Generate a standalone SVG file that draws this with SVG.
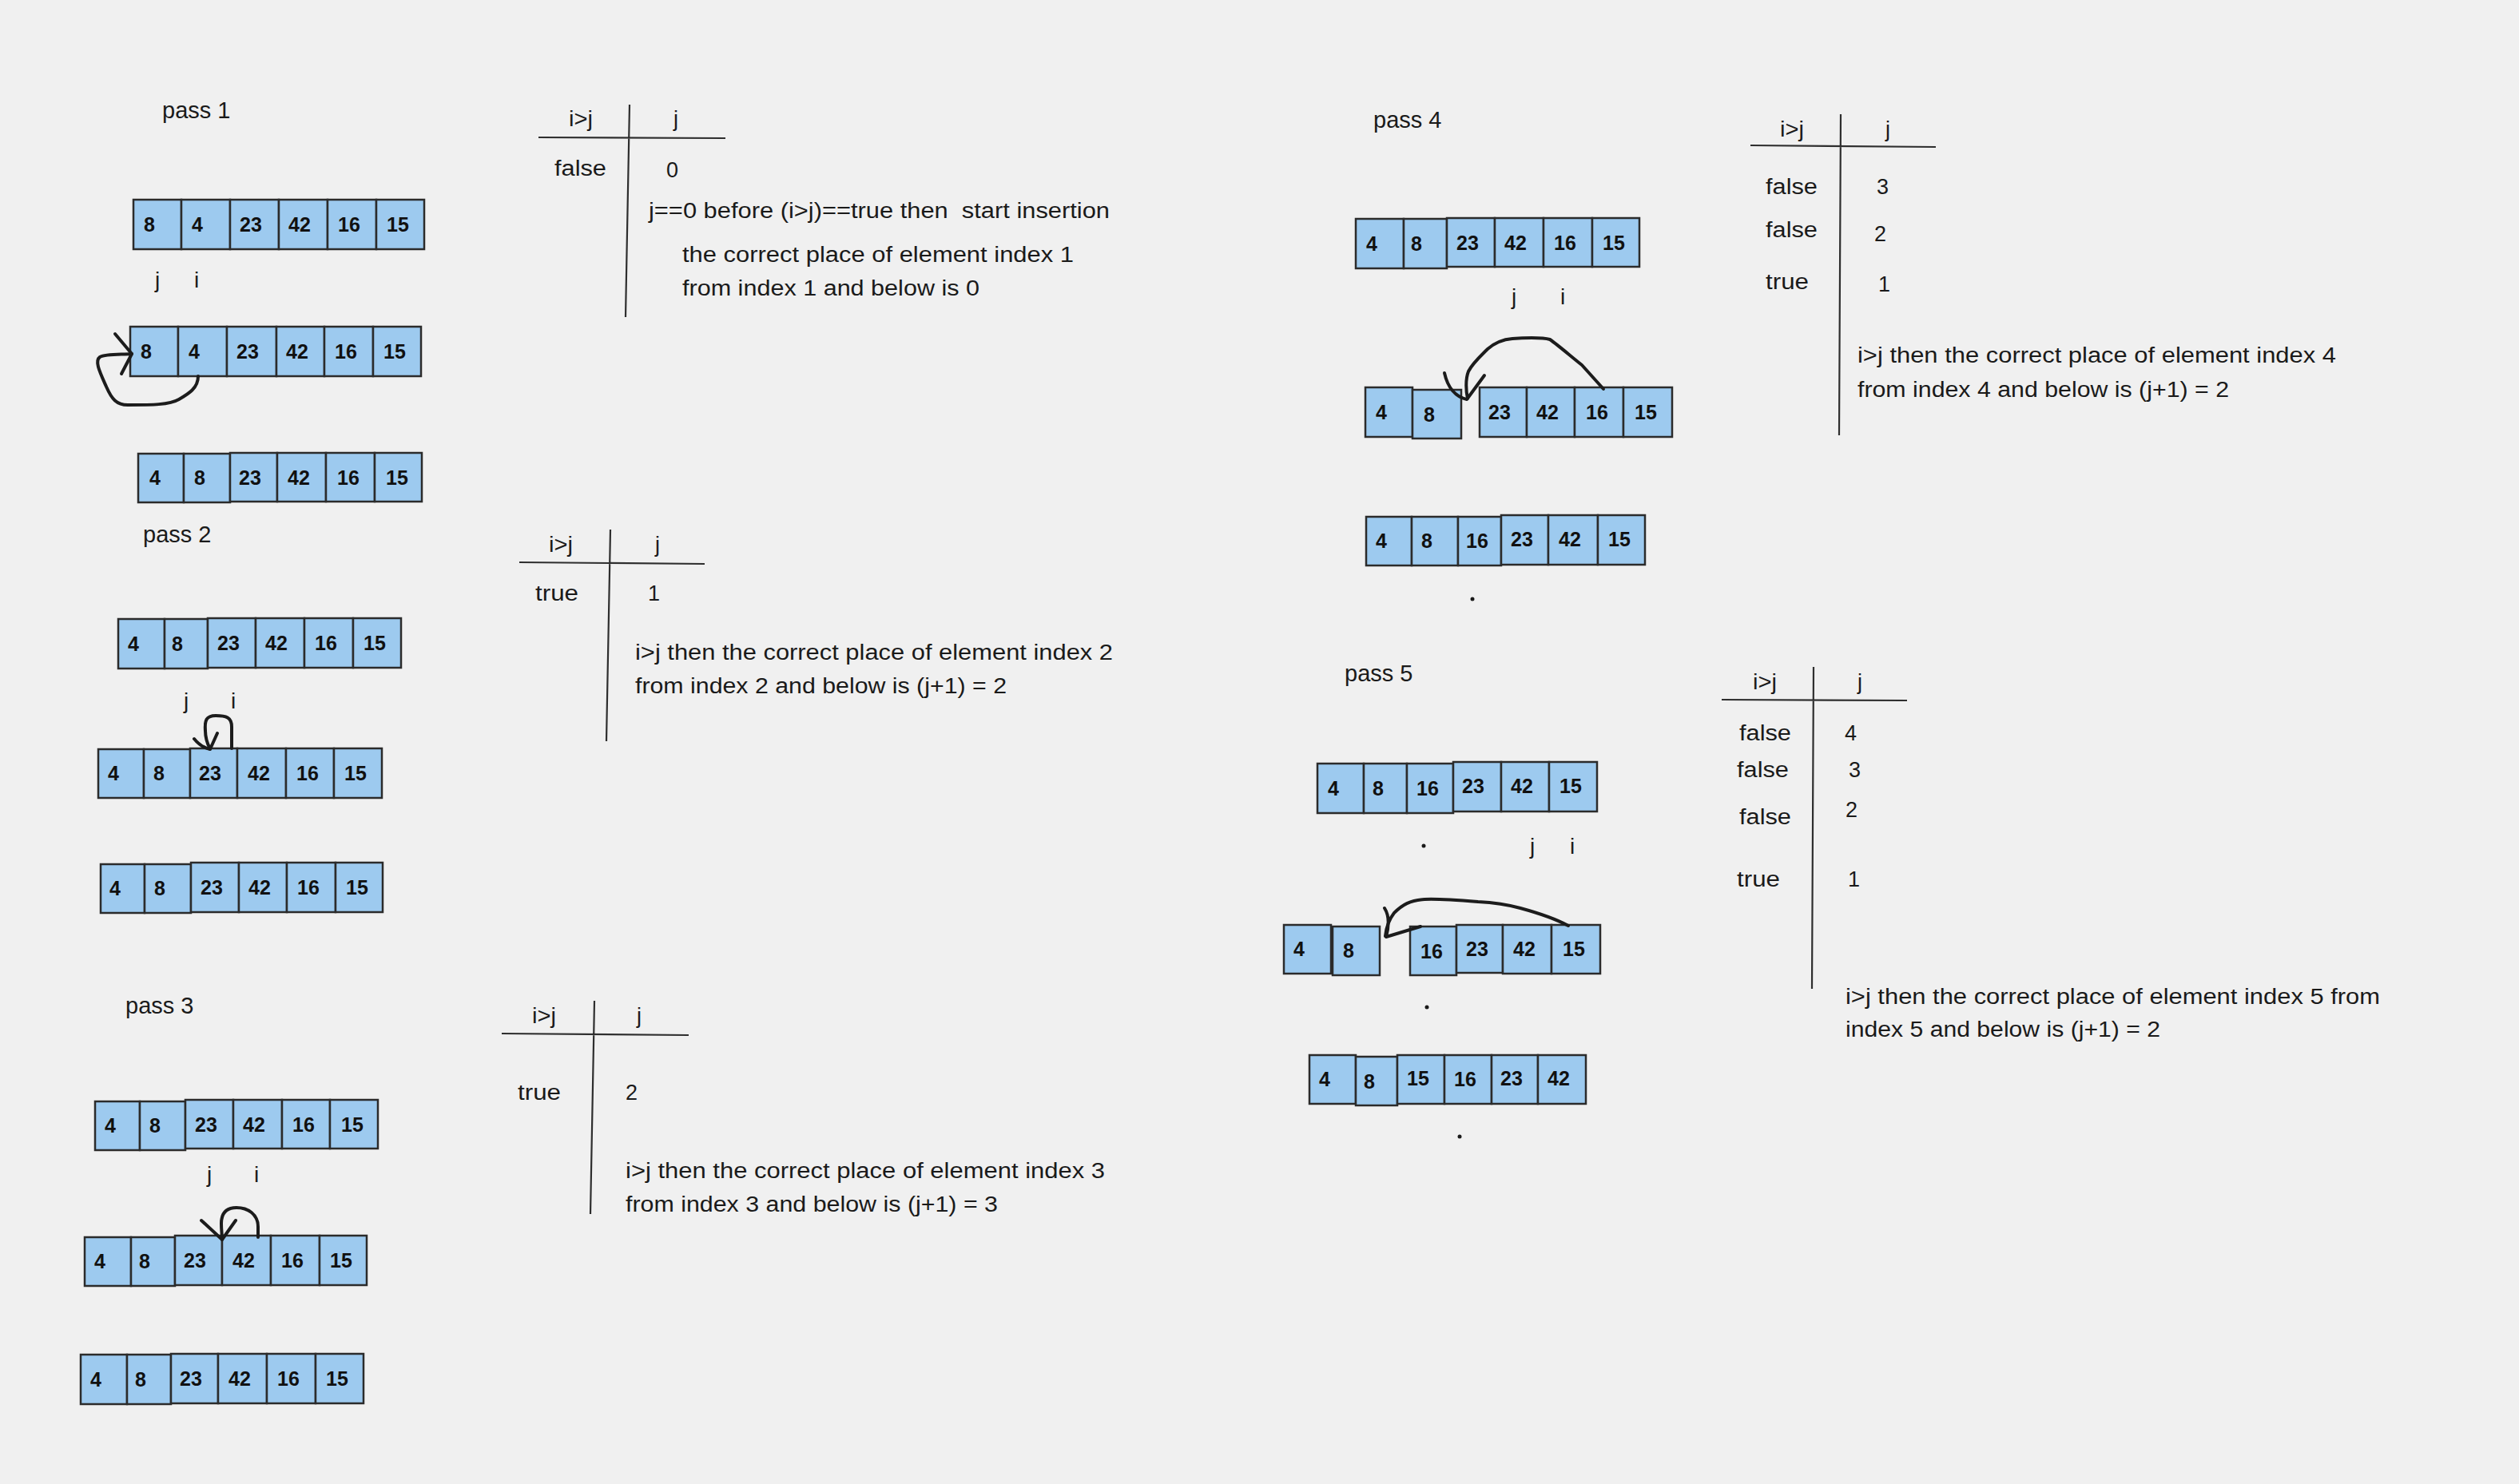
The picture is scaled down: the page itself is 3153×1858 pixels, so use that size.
<svg xmlns="http://www.w3.org/2000/svg" width="3153" height="1858" viewBox="0 0 3153 1858">
<style>
.c{fill:#9dcaef;stroke:#2b2b2b;stroke-width:2.5}
.n{font-family:"Liberation Sans",Arial,sans-serif;font-weight:bold;font-size:25px;fill:#111}
.p{font-family:"Liberation Sans",Arial,sans-serif;font-size:29px;fill:#1a1a1a}
.l{font-family:"Liberation Sans",Arial,sans-serif;font-size:28px;fill:#1a1a1a}
.t{font-family:"Liberation Sans",Arial,sans-serif;font-size:27px;fill:#1a1a1a}
.m{text-anchor:middle}
.tl{stroke:#2e2e2e;stroke-width:2.2;fill:none}
.a{stroke:#1c1c1c;stroke-width:4;fill:none;stroke-linecap:round;stroke-linejoin:round}
.d{fill:#1a1a1a}
</style>
<rect x="0" y="0" width="3153" height="1858" fill="#f0f0f0"/>

<!-- pass labels -->
<g id="label-pass1"><text class="p" x="203" y="148">pass 1</text></g>
<g id="label-pass2"><text class="p" x="179" y="679">pass 2</text></g>
<g id="label-pass3"><text class="p" x="157" y="1269">pass 3</text></g>
<g id="label-pass4"><text class="p" x="1719" y="160">pass 4</text></g>
<g id="label-pass5"><text class="p" x="1683" y="853">pass 5</text></g>

<!-- Pass 1 -->
<g id="p1-row1">
<rect class="c" x="167" y="250" width="60" height="62"/><text class="n" x="180" y="290">8</text>
<rect class="c" x="227" y="250" width="61" height="62"/><text class="n" x="240" y="290">4</text>
<rect class="c" x="288" y="250" width="61" height="62"/><text class="n" x="300" y="290">23</text>
<rect class="c" x="349" y="250" width="61" height="62"/><text class="n" x="361" y="290">42</text>
<rect class="c" x="410" y="250" width="61" height="62"/><text class="n" x="423" y="290">16</text>
<rect class="c" x="471" y="250" width="60" height="62"/><text class="n" x="484" y="290">15</text>
</g>
<g id="p1-ji"><text class="l" x="194" y="360">j</text><text class="l" x="243" y="360">i</text></g>
<g id="p1-row2">
<rect class="c" x="163" y="409" width="60" height="62"/><text class="n" x="176" y="449">8</text>
<rect class="c" x="223" y="409" width="61" height="62"/><text class="n" x="236" y="449">4</text>
<rect class="c" x="284" y="409" width="62" height="62"/><text class="n" x="296" y="449">23</text>
<rect class="c" x="346" y="409" width="60" height="62"/><text class="n" x="358" y="449">42</text>
<rect class="c" x="406" y="409" width="61" height="62"/><text class="n" x="419" y="449">16</text>
<rect class="c" x="467" y="409" width="60" height="62"/><text class="n" x="480" y="449">15</text>
</g>
<g id="p1-row3">
<rect class="c" x="173" y="568" width="57" height="61"/><text class="n" x="187" y="607">4</text>
<rect class="c" x="230" y="568" width="58" height="61"/><text class="n" x="243" y="607">8</text>
<rect class="c" x="288" y="567" width="59" height="61"/><text class="n" x="299" y="607">23</text>
<rect class="c" x="347" y="567" width="61" height="61"/><text class="n" x="360" y="607">42</text>
<rect class="c" x="408" y="567" width="61" height="61"/><text class="n" x="422" y="607">16</text>
<rect class="c" x="469" y="567" width="59" height="61"/><text class="n" x="483" y="607">15</text>
</g>

<!-- Pass 2 -->
<g id="p2-row1">
<rect class="c" x="148" y="775" width="58" height="62"/><text class="n" x="160" y="815">4</text>
<rect class="c" x="206" y="775" width="54" height="62"/><text class="n" x="215" y="815">8</text>
<rect class="c" x="260" y="774" width="60" height="62"/><text class="n" x="272" y="814">23</text>
<rect class="c" x="320" y="774" width="61" height="62"/><text class="n" x="332" y="814">42</text>
<rect class="c" x="381" y="774" width="61" height="62"/><text class="n" x="394" y="814">16</text>
<rect class="c" x="442" y="774" width="60" height="62"/><text class="n" x="455" y="814">15</text>
</g>
<g id="p2-ji"><text class="l" x="230" y="887">j</text><text class="l" x="289" y="887">i</text></g>
<g id="p2-row2">
<rect class="c" x="123" y="938" width="57" height="61"/><text class="n" x="135" y="977">4</text>
<rect class="c" x="180" y="938" width="58" height="61"/><text class="n" x="192" y="977">8</text>
<rect class="c" x="238" y="937" width="59" height="62"/><text class="n" x="249" y="977">23</text>
<rect class="c" x="297" y="937" width="61" height="62"/><text class="n" x="310" y="977">42</text>
<rect class="c" x="358" y="937" width="60" height="62"/><text class="n" x="371" y="977">16</text>
<rect class="c" x="418" y="937" width="60" height="62"/><text class="n" x="431" y="977">15</text>
</g>
<g id="p2-row3">
<rect class="c" x="126" y="1082" width="55" height="61"/><text class="n" x="137" y="1121">4</text>
<rect class="c" x="181" y="1082" width="58" height="61"/><text class="n" x="193" y="1121">8</text>
<rect class="c" x="239" y="1080" width="60" height="62"/><text class="n" x="251" y="1120">23</text>
<rect class="c" x="299" y="1080" width="60" height="62"/><text class="n" x="311" y="1120">42</text>
<rect class="c" x="359" y="1080" width="61" height="62"/><text class="n" x="372" y="1120">16</text>
<rect class="c" x="420" y="1080" width="59" height="62"/><text class="n" x="433" y="1120">15</text>
</g>

<!-- Pass 3 -->
<g id="p3-row1">
<rect class="c" x="119" y="1379" width="56" height="61"/><text class="n" x="131" y="1418">4</text>
<rect class="c" x="175" y="1379" width="57" height="61"/><text class="n" x="187" y="1418">8</text>
<rect class="c" x="232" y="1377" width="60" height="61"/><text class="n" x="244" y="1417">23</text>
<rect class="c" x="292" y="1377" width="61" height="61"/><text class="n" x="304" y="1417">42</text>
<rect class="c" x="353" y="1377" width="60" height="61"/><text class="n" x="366" y="1417">16</text>
<rect class="c" x="413" y="1377" width="60" height="61"/><text class="n" x="427" y="1417">15</text>
</g>
<g id="p3-ji"><text class="l" x="259" y="1480">j</text><text class="l" x="318" y="1480">i</text></g>
<g id="p3-row2">
<rect class="c" x="106" y="1549" width="58" height="61"/><text class="n" x="118" y="1588">4</text>
<rect class="c" x="164" y="1549" width="55" height="61"/><text class="n" x="174" y="1588">8</text>
<rect class="c" x="219" y="1547" width="59" height="62"/><text class="n" x="230" y="1587">23</text>
<rect class="c" x="278" y="1547" width="61" height="62"/><text class="n" x="291" y="1587">42</text>
<rect class="c" x="339" y="1547" width="61" height="62"/><text class="n" x="352" y="1587">16</text>
<rect class="c" x="400" y="1547" width="59" height="62"/><text class="n" x="413" y="1587">15</text>
</g>
<g id="p3-row3">
<rect class="c" x="101" y="1696" width="58" height="62"/><text class="n" x="113" y="1736">4</text>
<rect class="c" x="159" y="1696" width="55" height="62"/><text class="n" x="169" y="1736">8</text>
<rect class="c" x="214" y="1695" width="59" height="62"/><text class="n" x="225" y="1735">23</text>
<rect class="c" x="273" y="1695" width="61" height="62"/><text class="n" x="286" y="1735">42</text>
<rect class="c" x="334" y="1695" width="61" height="62"/><text class="n" x="347" y="1735">16</text>
<rect class="c" x="395" y="1695" width="60" height="62"/><text class="n" x="408" y="1735">15</text>
</g>

<!-- Pass 4 -->
<g id="p4-row1">
<rect class="c" x="1697" y="274" width="60" height="62"/><text class="n" x="1710" y="314">4</text>
<rect class="c" x="1757" y="274" width="54" height="62"/><text class="n" x="1766" y="314">8</text>
<rect class="c" x="1811" y="273" width="60" height="61"/><text class="n" x="1823" y="313">23</text>
<rect class="c" x="1871" y="273" width="61" height="61"/><text class="n" x="1883" y="313">42</text>
<rect class="c" x="1932" y="273" width="61" height="61"/><text class="n" x="1945" y="313">16</text>
<rect class="c" x="1993" y="273" width="59" height="61"/><text class="n" x="2006" y="313">15</text>
</g>
<g id="p4-ji"><text class="l" x="1892" y="381">j</text><text class="l" x="1953" y="381">i</text></g>
<g id="p4-row2">
<rect class="c" x="1709" y="485" width="59" height="62"/><text class="n" x="1722" y="525">4</text>
<rect class="c" x="1768" y="488" width="61" height="61"/><text class="n" x="1782" y="528">8</text>
<rect class="c" x="1852" y="485" width="59" height="62"/><text class="n" x="1863" y="525">23</text>
<rect class="c" x="1911" y="485" width="60" height="62"/><text class="n" x="1923" y="525">42</text>
<rect class="c" x="1971" y="485" width="61" height="62"/><text class="n" x="1985" y="525">16</text>
<rect class="c" x="2032" y="485" width="61" height="62"/><text class="n" x="2046" y="525">15</text>
</g>
<g id="p4-row3">
<rect class="c" x="1710" y="647" width="57" height="61"/><text class="n" x="1722" y="686">4</text>
<rect class="c" x="1767" y="647" width="58" height="61"/><text class="n" x="1779" y="686">8</text>
<rect class="c" x="1825" y="647" width="54" height="61"/><text class="n" x="1835" y="686">16</text>
<rect class="c" x="1879" y="645" width="59" height="62"/><text class="n" x="1891" y="684">23</text>
<rect class="c" x="1938" y="645" width="62" height="62"/><text class="n" x="1951" y="684">42</text>
<rect class="c" x="2000" y="645" width="59" height="62"/><text class="n" x="2013" y="684">15</text>
</g>
<g id="p4-dot"><circle class="d" cx="1843" cy="750" r="2.5"/></g>

<!-- Pass 5 -->
<g id="p5-row1">
<rect class="c" x="1649" y="956" width="58" height="62"/><text class="n" x="1662" y="996">4</text>
<rect class="c" x="1707" y="956" width="54" height="62"/><text class="n" x="1718" y="996">8</text>
<rect class="c" x="1761" y="956" width="58" height="62"/><text class="n" x="1773" y="996">16</text>
<rect class="c" x="1819" y="954" width="60" height="62"/><text class="n" x="1830" y="993">23</text>
<rect class="c" x="1879" y="954" width="60" height="62"/><text class="n" x="1891" y="993">42</text>
<rect class="c" x="1939" y="954" width="60" height="62"/><text class="n" x="1952" y="993">15</text>
</g>
<g id="p5-ji"><circle class="d" cx="1782" cy="1059" r="2.5"/><text class="l" x="1915" y="1069">j</text><text class="l" x="1965" y="1069">i</text></g>
<g id="p5-row2">
<rect class="c" x="1607" y="1158" width="59" height="61"/><text class="n" x="1619" y="1197">4</text>
<rect class="c" x="1668" y="1160" width="59" height="61"/><text class="n" x="1681" y="1199">8</text>
<rect class="c" x="1765" y="1160" width="58" height="61"/><text class="n" x="1778" y="1200">16</text>
<rect class="c" x="1823" y="1158" width="58" height="60"/><text class="n" x="1835" y="1197">23</text>
<rect class="c" x="1881" y="1158" width="61" height="61"/><text class="n" x="1894" y="1197">42</text>
<rect class="c" x="1942" y="1158" width="61" height="61"/><text class="n" x="1956" y="1197">15</text>
</g>
<g id="p5-dot"><circle class="d" cx="1786" cy="1261" r="2.5"/></g>
<g id="p5-row3">
<rect class="c" x="1639" y="1321" width="58" height="61"/><text class="n" x="1651" y="1360">4</text>
<rect class="c" x="1697" y="1323" width="52" height="61"/><text class="n" x="1707" y="1363">8</text>
<rect class="c" x="1749" y="1321" width="59" height="61"/><text class="n" x="1761" y="1359">15</text>
<rect class="c" x="1808" y="1321" width="59" height="61"/><text class="n" x="1820" y="1360">16</text>
<rect class="c" x="1867" y="1321" width="58" height="61"/><text class="n" x="1878" y="1359">23</text>
<rect class="c" x="1925" y="1321" width="60" height="61"/><text class="n" x="1937" y="1359">42</text>
</g>
<g id="p5-dot2"><circle class="d" cx="1827" cy="1423" r="2.5"/></g>

<!-- Tables -->
<g id="table1">
<path class="tl" d="M674,172 L908,173 M788,131 L783,397"/>
<text class="t m" x="727" y="158" textLength="30" lengthAdjust="spacingAndGlyphs">i&gt;j</text>
<text class="t m" x="846" y="158">j</text>
<text class="t" x="694" y="220" textLength="65" lengthAdjust="spacingAndGlyphs">false</text>
<text class="t" x="834" y="222">0</text>
<text class="t" x="812" y="273" xml:space="preserve" textLength="577" lengthAdjust="spacingAndGlyphs">j==0 before (i&gt;j)==true then  start insertion</text>
<text class="t" x="854" y="328" textLength="490" lengthAdjust="spacingAndGlyphs">the correct place of element index 1</text>
<text class="t" x="854" y="370" textLength="372" lengthAdjust="spacingAndGlyphs">from index 1 and below is 0</text>
</g>
<g id="table2">
<path class="tl" d="M650,704 L882,706 M764,663 L759,928"/>
<text class="t m" x="702" y="691" textLength="30" lengthAdjust="spacingAndGlyphs">i&gt;j</text>
<text class="t m" x="823" y="691">j</text>
<text class="t" x="670" y="752" textLength="54" lengthAdjust="spacingAndGlyphs">true</text>
<text class="t" x="811" y="752">1</text>
<text class="t" x="795" y="826" textLength="598" lengthAdjust="spacingAndGlyphs">i&gt;j then the correct place of element index 2</text>
<text class="t" x="795" y="868" textLength="465" lengthAdjust="spacingAndGlyphs">from index 2 and below is (j+1) = 2</text>
</g>
<g id="table3">
<path class="tl" d="M628,1294 L862,1296 M744,1253 L739,1520"/>
<text class="t m" x="681" y="1281" textLength="30" lengthAdjust="spacingAndGlyphs">i&gt;j</text>
<text class="t m" x="800" y="1281">j</text>
<text class="t" x="648" y="1377" textLength="54" lengthAdjust="spacingAndGlyphs">true</text>
<text class="t" x="783" y="1377">2</text>
<text class="t" x="783" y="1475" textLength="600" lengthAdjust="spacingAndGlyphs">i&gt;j then the correct place of element index 3</text>
<text class="t" x="783" y="1517" textLength="466" lengthAdjust="spacingAndGlyphs">from index 3 and below is (j+1) = 3</text>
</g>
<g id="table4">
<path class="tl" d="M2191,182 L2423,184 M2304,143 L2302,545"/>
<text class="t m" x="2243" y="171" textLength="30" lengthAdjust="spacingAndGlyphs">i&gt;j</text>
<text class="t m" x="2363" y="171">j</text>
<text class="t" x="2210" y="243" textLength="65" lengthAdjust="spacingAndGlyphs">false</text>
<text class="t" x="2349" y="243">3</text>
<text class="t" x="2210" y="297" textLength="65" lengthAdjust="spacingAndGlyphs">false</text>
<text class="t" x="2346" y="302">2</text>
<text class="t" x="2210" y="362" textLength="54" lengthAdjust="spacingAndGlyphs">true</text>
<text class="t" x="2351" y="365">1</text>
<text class="t" x="2325" y="454" textLength="599" lengthAdjust="spacingAndGlyphs">i&gt;j then the correct place of element index 4</text>
<text class="t" x="2325" y="497" textLength="465" lengthAdjust="spacingAndGlyphs">from index 4 and below is (j+1) = 2</text>
</g>
<g id="table5">
<path class="tl" d="M2155,876 L2387,877 M2270,835 L2268,1238"/>
<text class="t m" x="2209" y="863" textLength="30" lengthAdjust="spacingAndGlyphs">i&gt;j</text>
<text class="t m" x="2328" y="863">j</text>
<text class="t" x="2177" y="927" textLength="65" lengthAdjust="spacingAndGlyphs">false</text>
<text class="t" x="2309" y="927">4</text>
<text class="t" x="2174" y="973" textLength="65" lengthAdjust="spacingAndGlyphs">false</text>
<text class="t" x="2314" y="973">3</text>
<text class="t" x="2177" y="1032" textLength="65" lengthAdjust="spacingAndGlyphs">false</text>
<text class="t" x="2310" y="1023">2</text>
<text class="t" x="2174" y="1110" textLength="54" lengthAdjust="spacingAndGlyphs">true</text>
<text class="t" x="2313" y="1110">1</text>
<text class="t" x="2310" y="1257" textLength="669" lengthAdjust="spacingAndGlyphs">i&gt;j then the correct place of element index 5 from</text>
<text class="t" x="2310" y="1298" textLength="394" lengthAdjust="spacingAndGlyphs">index 5 and below is (j+1) = 2</text>
</g>

<!-- Connectors -->
<g id="connectors">
<path class="a" d="M248,471 C248,486 236,493 224,500 C212,507 190,507 160,507 C146,507 140,500 133,484 C125,466 118,452 125,447 C132,443 150,444 165,443"/>
<path class="a" d="M144,418 L165,443 L152,468"/>
<path class="a" d="M290,937 L290,910 C290,898 283,896 270,896 C258,896 256,902 257,915 C257,925 260,932 263,938"/>
<path class="a" d="M243,925 Q252,936 263,938 L272,918"/>
<path class="a" d="M323,1549 L323,1536 C323,1520 310,1512 296,1512 C282,1512 277,1520 277,1532 C277,1540 278,1546 278,1552"/>
<path class="a" d="M252,1528 L278,1552 L295,1528"/>
<path class="a" d="M2007,487 L1980,457 C1965,445 1950,432 1940,425 C1930,422 1905,423 1893,424 C1880,425 1870,430 1862,437 C1852,447 1843,455 1838,465 C1834,475 1835,490 1837,499"/>
<path class="a" d="M1808,467 C1812,485 1822,497 1836,500 L1858,470"/>
<path class="a" d="M1963,1159 C1950,1152 1925,1143 1903,1137 C1885,1132 1870,1130 1850,1129 C1825,1127 1800,1125 1783,1126 C1765,1127 1755,1133 1745,1143 C1738,1152 1735,1162 1734,1172"/>
<path class="a" d="M1733,1137 C1740,1148 1738,1162 1735,1173 L1778,1160"/>
</g>
</svg>
